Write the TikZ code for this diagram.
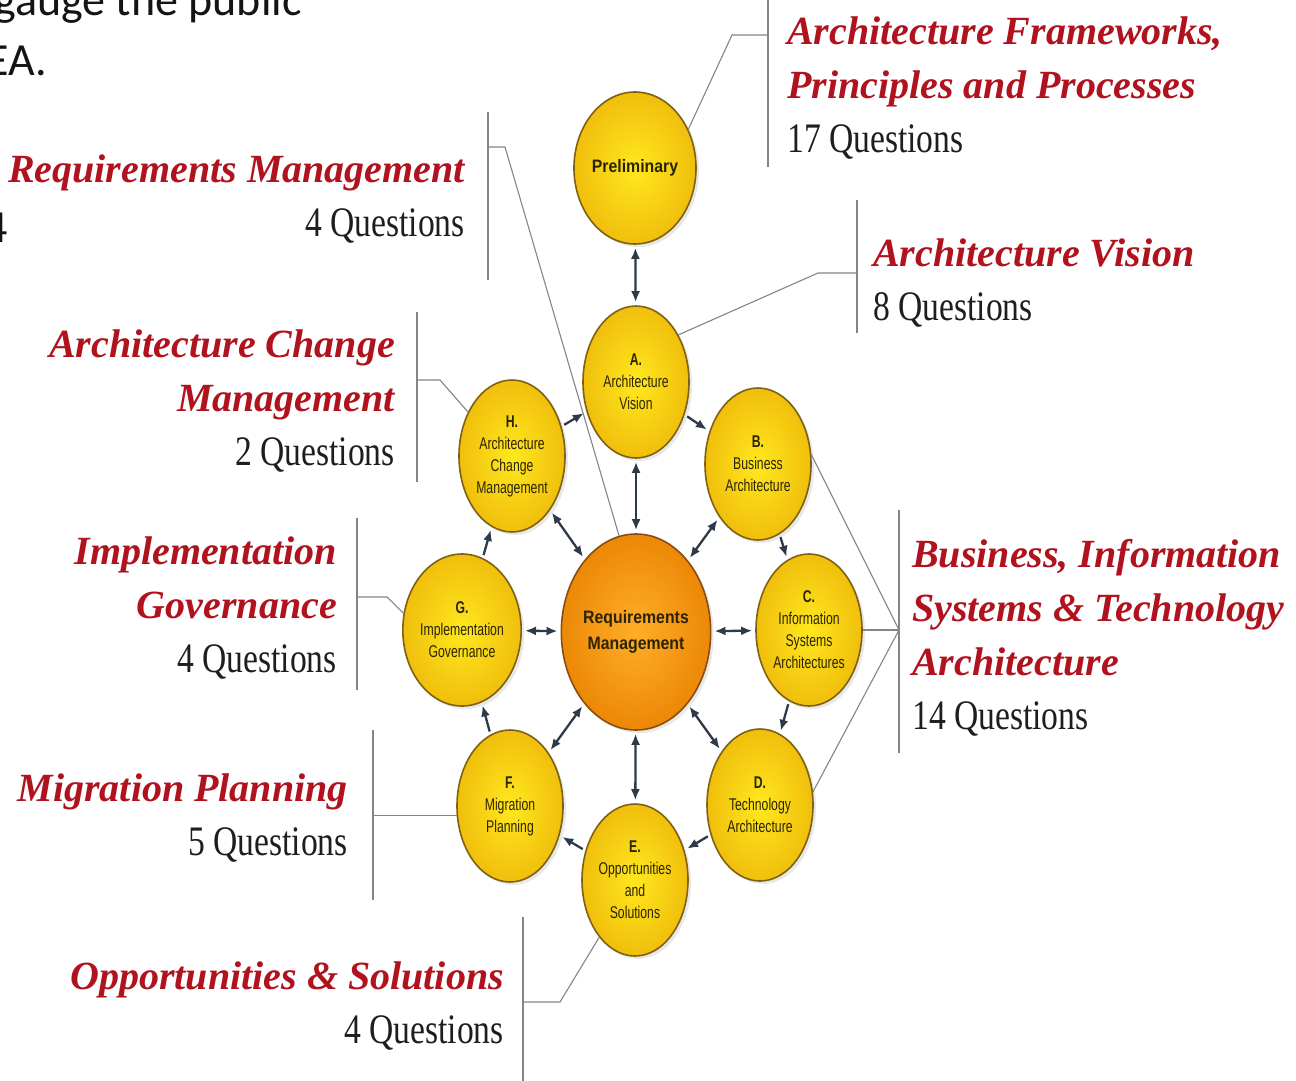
\documentclass[tikz,border=0pt]{standalone}
\usepackage{fontspec}
\setmainfont{Liberation Serif}
\newfontfamily\titlefont{Liberation Serif}
\newfontfamily\qfont[FakeStretch=0.8]{Liberation Serif}
\newfontfamily\circfont[FakeStretch=0.72]{Liberation Sans}
\newfontfamily\circbold[FakeStretch=0.88]{Liberation Sans}
\newfontfamily\slidefont{Carlito}
\usetikzlibrary{shapes.geometric,arrows.meta,shadows}
\definecolor{labred}{HTML}{B0121E}
\definecolor{qblack}{HTML}{1E1E1E}
\definecolor{ringc}{HTML}{7E6212}
\definecolor{ringo}{HTML}{8A4E10}
\definecolor{intxt}{HTML}{2C2400}
\definecolor{arrc}{HTML}{2E3A4A}
\definecolor{leadc}{HTML}{858585}
\definecolor{yin}{HTML}{FFE81E}
\definecolor{yout}{HTML}{F0BF0C}
\definecolor{oin}{HTML}{FFAE2A}
\definecolor{oout}{HTML}{EC8806}
\newcommand{\qline}[1]{{\qfont\mdseries\upshape\fontsize{42}{54}\selectfont\color{qblack}#1}}
\begin{document}
\begin{tikzpicture}[x=1pt,y=-1pt,
  phase/.style={ellipse, minimum width=106pt, minimum height=152pt, inner sep=0pt,
    draw=ringc, line width=1.6pt, inner color=yin, outer color=yout,
    drop shadow={opacity=0.18, shadow xshift=3pt, shadow yshift=-3pt},
    font=\circfont\fontsize{17}{22}\selectfont, text=intxt, align=center},
  central/.style={phase, minimum width=136pt, minimum height=196pt, draw=ringo,
    inner color=oin, outer color=oout,
    font=\circbold\bfseries\fontsize{18}{26}\selectfont},
  dbl/.style={{Latex[length=11pt,width=9pt]}-{Latex[length=11pt,width=9pt]}, draw=arrc, line width=2.3pt, shorten <=3pt, shorten >=3pt},
  sgl/.style={-{Latex[length=11pt,width=9pt]}, draw=arrc, line width=2.3pt, shorten <=3pt, shorten >=3pt},
  lead/.style={draw=leadc, line width=1.1pt},
  lbl/.style={inner sep=0pt, font=\titlefont\bfseries\itshape\fontsize{40}{54}\selectfont, text=labred},
  slide/.style={inner sep=0pt, font=\slidefont\fontsize{46}{56}\selectfont, text=black!92}
]
\useasboundingbox (0,0) rectangle (1296,1081);
\clip (0,0) rectangle (1296,1081);
\fill[white] (0,0) rectangle (1296,1081);

% background slide text (cut off at the edges, as in the reference)
\node[slide, anchor=base west] (s1) at (-6,16) {gauge the public};
\node[slide, anchor=base east] (s2) at (47,75) {EA.};
\node[slide, anchor=base east] (s3) at (8,242) {4};

% phases
\node[phase] (prelim) at (635,168) {\circbold\bfseries\fontsize{18}{22}\selectfont Preliminary};
\node[phase] (A) at (636,382) {\textbf{A.}\\Architecture\\Vision};
\node[phase] (B) at (758,464) {\textbf{B.}\\Business\\Architecture};
\node[phase] (C) at (809,630) {\textbf{C.}\\Information\\Systems\\Architectures};
\node[phase] (D) at (760,805) {\textbf{D.}\\Technology\\Architecture};
\node[phase] (E) at (635,880) {\textbf{E.}\\Opportunities\\and\\Solutions};
\node[phase] (F) at (510,806) {\textbf{F.}\\Migration\\Planning};
\node[phase] (G) at (462,630) {\textbf{G.}\\Implementation\\Governance};
\node[phase] (H) at (512,456) {\textbf{H.}\\Architecture\\Change\\Management};
\node[central] (req) at (636,632) {Requirements\\Management};

% arrows
\draw[dbl] (prelim) -- (A);
\draw[dbl] (A) -- (req);
\draw[sgl] (H) -- (A);
\draw[sgl] (A) -- (B);
\draw[sgl] (B) -- (C);
\draw[sgl] (C) -- (D);
\draw[sgl] (D) -- (E);
\draw[sgl] (E) -- (F);
\draw[sgl] (F) -- (G);
\draw[sgl] (G) -- (H);
\draw[dbl] (req) -- (H);
\draw[dbl] (req) -- (B);
\draw[dbl] (req) -- (G);
\draw[dbl] (req) -- (C);
\draw[dbl] (req) -- (F);
\draw[dbl] (req) -- (D);
\draw[dbl] (req) -- (E);

% brackets and leader lines
\coordinate (afT) at (768,0);   \coordinate (afB) at (768,167);
\coordinate (afJ) at (768,35);  \coordinate (afK) at (732,35);
\draw[lead] (afT) -- (afB);
\draw[lead] (afJ) -- (afK) -- (prelim.36);

\coordinate (avT) at (857,200); \coordinate (avB) at (857,333);
\coordinate (avJ) at (857,273); \coordinate (avK) at (818,273);
\draw[lead] (avT) -- (avB);
\draw[lead] (avJ) -- (avK) -- (A.48);

\coordinate (rmT) at (488,112); \coordinate (rmB) at (488,280);
\coordinate (rmJ) at (488,147); \coordinate (rmK) at (505,147);
\draw[lead] (rmT) -- (rmB);
\draw[lead] (rmJ) -- (rmK) -- (req.100);

\coordinate (acT) at (417,312); \coordinate (acB) at (417,482);
\coordinate (acJ) at (417,380); \coordinate (acK) at (440,380);
\draw[lead] (acT) -- (acB);
\draw[lead] (acJ) -- (acK) -- (H.135);

\coordinate (igT) at (357,518); \coordinate (igB) at (357,690);
\coordinate (igJ) at (357,597); \coordinate (igK) at (387,597);
\draw[lead] (igT) -- (igB);
\draw[lead] (igJ) -- (igK) -- (G.164);

\coordinate (mpT) at (373,730); \coordinate (mpB) at (373,900);
\coordinate (mpX) at (373,0);
\draw[lead] (mpT) -- (mpB);
\draw[lead] (F.190 -| mpX) -- (F.190);

\coordinate (osT) at (523,917); \coordinate (osB) at (523,1081);
\coordinate (osJ) at (523,1002); \coordinate (osK) at (560,1002);
\draw[lead] (osT) -- (osB);
\draw[lead] (osJ) -- (osK) -- (E.238);

\coordinate (biT) at (899,510); \coordinate (biB) at (899,753);
\coordinate (biJ) at (899,630);
\draw[lead] (biT) -- (biB);
\draw[lead] (B.10) -- (biJ);
\draw[lead] (C.east) -- (biJ);
\draw[lead] (D.14) -- (biJ);

% labels
\node[lbl, anchor=north west, align=left] (lAF) at (787,17)
  {Architecture Frameworks,\\Principles and Processes\\\qline{17 Questions}};
\node[lbl, anchor=north west, align=left] (lAV) at (873,239)
  {Architecture Vision\\\qline{8 Questions}};
\node[lbl, anchor=north east, align=right] (lRM) at (465,155)
  {Requirements Management\\\qline{4 Questions}};
\node[lbl, anchor=north east, align=right] (lAC) at (395,330)
  {Architecture Change\\Management\\\qline{2 Questions}};
\node[lbl, anchor=north east, align=right] (lIG) at (337,537)
  {Implementation\\Governance\\\qline{4 Questions}};
\node[lbl, anchor=north east, align=right] (lMP) at (348,774)
  {Migration Planning\\\qline{5 Questions}};
\node[lbl, anchor=north east, align=right] (lOS) at (504,962)
  {Opportunities \& Solutions\\\qline{4 Questions}};
\node[lbl, anchor=north west, align=left] (lBI) at (912,539)
  {Business, Information\\Systems \& Technology\\Architecture\\\qline{14 Questions}};
\end{tikzpicture}
\end{document}
